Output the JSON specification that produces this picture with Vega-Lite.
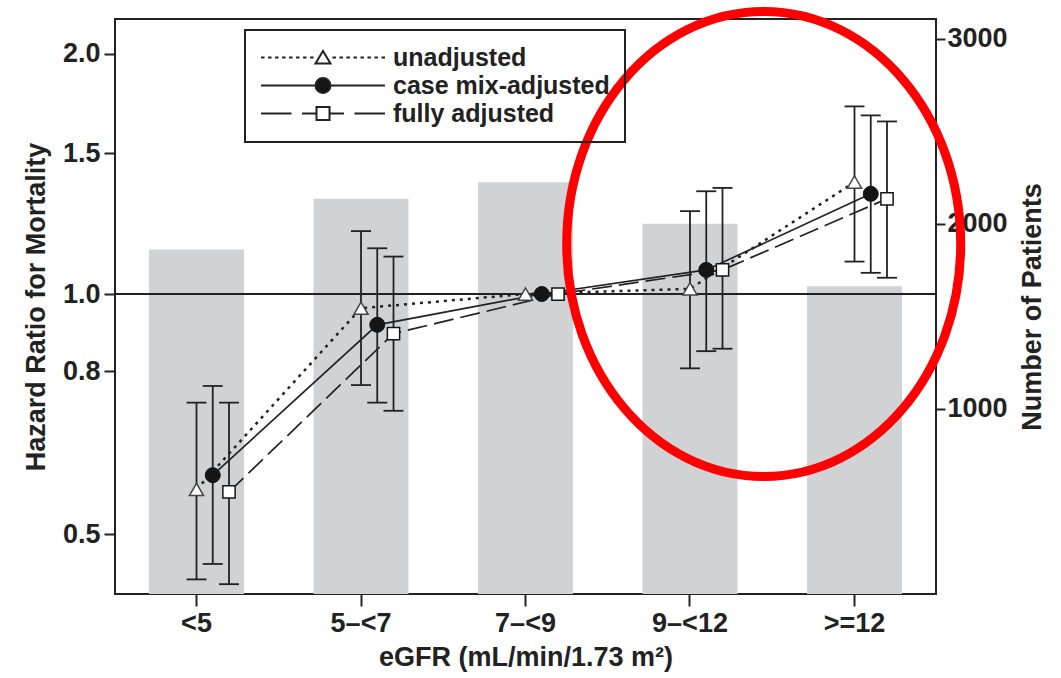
{
  "$schema": "https://vega.github.io/schema/vega-lite/v6.json",
  "width": 821,
  "height": 575,
  "autosize": {"type": "none"},
  "padding": {"left": 115, "top": 19, "right": 125, "bottom": 84},
  "background": "white",
  "config": {
    "font": "Liberation Sans",
    "view": {"stroke": "#222222", "strokeWidth": 2},
    "legend": {"strokeWidth": 2},
    "axis": {
      "labelFont": "Liberation Sans", "labelFontSize": 27, "labelFontWeight": "bold", "labelColor": "#222222",
      "titleFont": "Liberation Sans", "titleFontSize": 27, "titleFontWeight": "bold", "titleColor": "#222222",
      "tickColor": "#222222", "tickWidth": 2, "domain": false, "grid": false
    }
  },
  "datasets": {
    "bars": [
      {"egfr": "<5", "n": 1862},
      {"egfr": "5–<7", "n": 2136},
      {"egfr": "7–<9", "n": 2226},
      {"egfr": "9–<12", "n": 2001},
      {"egfr": ">=12", "n": 1664}
    ],
    "hr": [
      {"egfr": "<5", "model": "unadjusted", "hr": 0.569, "lo": 0.439, "hi": 0.731},
      {"egfr": "5–<7", "model": "unadjusted", "hr": 0.960, "lo": 0.769, "hi": 1.199},
      {"egfr": "7–<9", "model": "unadjusted", "hr": 1.0, "lo": null, "hi": null},
      {"egfr": "9–<12", "model": "unadjusted", "hr": 1.015, "lo": 0.807, "hi": 1.270},
      {"egfr": ">=12", "model": "unadjusted", "hr": 1.381, "lo": 1.098, "hi": 1.718},
      {"egfr": "<5", "model": "case mix-adjusted", "hr": 0.593, "lo": 0.459, "hi": 0.767},
      {"egfr": "5–<7", "model": "case mix-adjusted", "hr": 0.915, "lo": 0.731, "hi": 1.141},
      {"egfr": "7–<9", "model": "case mix-adjusted", "hr": 1.0, "lo": null, "hi": null},
      {"egfr": "9–<12", "model": "case mix-adjusted", "hr": 1.072, "lo": 0.848, "hi": 1.345},
      {"egfr": ">=12", "model": "case mix-adjusted", "hr": 1.335, "lo": 1.063, "hi": 1.674},
      {"egfr": "<5", "model": "fully adjusted", "hr": 0.565, "lo": 0.433, "hi": 0.731},
      {"egfr": "5–<7", "model": "fully adjusted", "hr": 0.892, "lo": 0.714, "hi": 1.114},
      {"egfr": "7–<9", "model": "fully adjusted", "hr": 1.0, "lo": null, "hi": null},
      {"egfr": "9–<12", "model": "fully adjusted", "hr": 1.072, "lo": 0.854, "hi": 1.358},
      {"egfr": ">=12", "model": "fully adjusted", "hr": 1.316, "lo": 1.048, "hi": 1.645}
    ]
  },
  "layer": [
    {
      "data": {"name": "bars"},
      "mark": {"type": "bar", "color": "#d1d2d4"},
      "encoding": {
        "x": {"field": "egfr", "type": "nominal",
          "scale": {"type": "band", "domain": ["<5", "5–<7", "7–<9", "9–<12", ">=12"], "paddingInner": 0.4225, "paddingOuter": 0.2067},
          "axis": {"title": "eGFR (mL/min/1.73 m²)", "labelAngle": 0, "tickSize": 12, "labelPadding": 4, "titlePadding": 8}},
        "y": {"field": "n", "type": "quantitative",
          "scale": {"domain": [0, 3108], "nice": false, "zero": true},
          "axis": {"orient": "right", "values": [1000, 2000, 3000], "format": "d", "title": "Number of Patients", "tickSize": 9, "labelPadding": 2, "titlePadding": 12, "titleAngle": 270, "titleBaseline": "top"}}
      }
    },
    {
      "data": {"name": "hr"},
      "layer": [
        {
          "data": {"values": [{}]},
          "mark": {"type": "rule", "color": "#222222", "strokeWidth": 1.8},
          "encoding": {
            "y": {"datum": 1, "type": "quantitative", "scale": {"type": "log", "domain": [0.4209, 2.2106], "nice": false},
              "axis": {"orient": "left", "values": [0.5, 0.8, 1, 1.5, 2], "format": ".1f", "title": "Hazard Ratio for Mortality", "tickSize": 11, "labelPadding": 4, "titlePadding": 12}}
          }
        },
        {
          "transform": [{"filter": "datum.model === 'unadjusted'"}],
          "mark": {"type": "line", "color": "#222222", "strokeWidth": 2.5, "strokeDash": [3, 5]},
          "encoding": {
            "x": {"field": "egfr", "type": "nominal", "scale": {"type": "band", "domain": ["<5", "5–<7", "7–<9", "9–<12", ">=12"], "paddingInner": 0.4225, "paddingOuter": 0.2067},
              "axis": {"title": "eGFR (mL/min/1.73 m²)", "labelAngle": 0, "tickSize": 12, "labelPadding": 4, "titlePadding": 8}},
            "xOffset": {"field": "model", "type": "nominal", "scale": {"type": "point", "domain": ["unadjusted", "case mix-adjusted", "fully adjusted"], "range": [47.5, 80], "padding": 0}},
            "y": {"field": "hr", "type": "quantitative", "scale": {"type": "log", "domain": [0.4209, 2.2106], "nice": false},
              "axis": {"orient": "left", "values": [0.5, 0.8, 1, 1.5, 2], "format": ".1f", "title": "Hazard Ratio for Mortality", "tickSize": 11, "labelPadding": 4, "titlePadding": 12}},
            "order": {"value": null}
          }
        },
        {
          "transform": [{"filter": "datum.model === 'case mix-adjusted'"}],
          "mark": {"type": "line", "color": "#222222", "strokeWidth": 1.7},
          "encoding": {
            "x": {"field": "egfr", "type": "nominal", "scale": {"type": "band", "domain": ["<5", "5–<7", "7–<9", "9–<12", ">=12"], "paddingInner": 0.4225, "paddingOuter": 0.2067},
              "axis": {"title": "eGFR (mL/min/1.73 m²)", "labelAngle": 0, "tickSize": 12, "labelPadding": 4, "titlePadding": 8}},
            "xOffset": {"field": "model", "type": "nominal", "scale": {"type": "point", "domain": ["unadjusted", "case mix-adjusted", "fully adjusted"], "range": [47.5, 80], "padding": 0}},
            "y": {"field": "hr", "type": "quantitative", "scale": {"type": "log", "domain": [0.4209, 2.2106], "nice": false},
              "axis": {"orient": "left", "values": [0.5, 0.8, 1, 1.5, 2], "format": ".1f", "title": "Hazard Ratio for Mortality", "tickSize": 11, "labelPadding": 4, "titlePadding": 12}},
            "order": {"value": null}
          }
        },
        {
          "transform": [{"filter": "datum.model === 'fully adjusted'"}],
          "mark": {"type": "line", "color": "#222222", "strokeWidth": 1.7, "strokeDash": [20, 7]},
          "encoding": {
            "x": {"field": "egfr", "type": "nominal", "scale": {"type": "band", "domain": ["<5", "5–<7", "7–<9", "9–<12", ">=12"], "paddingInner": 0.4225, "paddingOuter": 0.2067},
              "axis": {"title": "eGFR (mL/min/1.73 m²)", "labelAngle": 0, "tickSize": 12, "labelPadding": 4, "titlePadding": 8}},
            "xOffset": {"field": "model", "type": "nominal", "scale": {"type": "point", "domain": ["unadjusted", "case mix-adjusted", "fully adjusted"], "range": [47.5, 80], "padding": 0}},
            "y": {"field": "hr", "type": "quantitative", "scale": {"type": "log", "domain": [0.4209, 2.2106], "nice": false},
              "axis": {"orient": "left", "values": [0.5, 0.8, 1, 1.5, 2], "format": ".1f", "title": "Hazard Ratio for Mortality", "tickSize": 11, "labelPadding": 4, "titlePadding": 12}},
            "order": {"value": null}
          }
        },
        {
          "mark": {"type": "rule", "color": "#222222", "strokeWidth": 1.8},
          "encoding": {
            "x": {"field": "egfr", "type": "nominal", "scale": {"type": "band", "domain": ["<5", "5–<7", "7–<9", "9–<12", ">=12"], "paddingInner": 0.4225, "paddingOuter": 0.2067},
              "axis": {"title": "eGFR (mL/min/1.73 m²)", "labelAngle": 0, "tickSize": 12, "labelPadding": 4, "titlePadding": 8}},
            "xOffset": {"field": "model", "type": "nominal", "scale": {"type": "point", "domain": ["unadjusted", "case mix-adjusted", "fully adjusted"], "range": [47.5, 80], "padding": 0}},
            "y": {"field": "lo", "type": "quantitative", "scale": {"type": "log", "domain": [0.4209, 2.2106], "nice": false},
              "axis": {"orient": "left", "values": [0.5, 0.8, 1, 1.5, 2], "format": ".1f", "title": "Hazard Ratio for Mortality", "tickSize": 11, "labelPadding": 4, "titlePadding": 12}},
            "y2": {"field": "hi"}
          }
        },
        {
          "mark": {"type": "point", "shape": "stroke", "size": 400, "filled": false, "stroke": "#222222", "strokeWidth": 1.8, "opacity": 1},
          "encoding": {
            "x": {"field": "egfr", "type": "nominal", "scale": {"type": "band", "domain": ["<5", "5–<7", "7–<9", "9–<12", ">=12"], "paddingInner": 0.4225, "paddingOuter": 0.2067},
              "axis": {"title": "eGFR (mL/min/1.73 m²)", "labelAngle": 0, "tickSize": 12, "labelPadding": 4, "titlePadding": 8}},
            "xOffset": {"field": "model", "type": "nominal", "scale": {"type": "point", "domain": ["unadjusted", "case mix-adjusted", "fully adjusted"], "range": [47.5, 80], "padding": 0}},
            "y": {"field": "lo", "type": "quantitative", "scale": {"type": "log", "domain": [0.4209, 2.2106], "nice": false},
              "axis": {"orient": "left", "values": [0.5, 0.8, 1, 1.5, 2], "format": ".1f", "title": "Hazard Ratio for Mortality", "tickSize": 11, "labelPadding": 4, "titlePadding": 12}}
          }
        },
        {
          "mark": {"type": "point", "shape": "stroke", "size": 400, "filled": false, "stroke": "#222222", "strokeWidth": 1.8, "opacity": 1},
          "encoding": {
            "x": {"field": "egfr", "type": "nominal", "scale": {"type": "band", "domain": ["<5", "5–<7", "7–<9", "9–<12", ">=12"], "paddingInner": 0.4225, "paddingOuter": 0.2067},
              "axis": {"title": "eGFR (mL/min/1.73 m²)", "labelAngle": 0, "tickSize": 12, "labelPadding": 4, "titlePadding": 8}},
            "xOffset": {"field": "model", "type": "nominal", "scale": {"type": "point", "domain": ["unadjusted", "case mix-adjusted", "fully adjusted"], "range": [47.5, 80], "padding": 0}},
            "y": {"field": "hi", "type": "quantitative", "scale": {"type": "log", "domain": [0.4209, 2.2106], "nice": false},
              "axis": {"orient": "left", "values": [0.5, 0.8, 1, 1.5, 2], "format": ".1f", "title": "Hazard Ratio for Mortality", "tickSize": 11, "labelPadding": 4, "titlePadding": 12}}
          }
        },
        {
          "transform": [{"filter": "datum.model === 'unadjusted'"}],
          "mark": {"type": "point", "shape": "triangle-up", "size": 200, "filled": true, "fill": "#ffffff", "stroke": "#444444", "strokeWidth": 1.5, "opacity": 1},
          "encoding": {
            "x": {"field": "egfr", "type": "nominal", "scale": {"type": "band", "domain": ["<5", "5–<7", "7–<9", "9–<12", ">=12"], "paddingInner": 0.4225, "paddingOuter": 0.2067},
              "axis": {"title": "eGFR (mL/min/1.73 m²)", "labelAngle": 0, "tickSize": 12, "labelPadding": 4, "titlePadding": 8}},
            "xOffset": {"field": "model", "type": "nominal", "scale": {"type": "point", "domain": ["unadjusted", "case mix-adjusted", "fully adjusted"], "range": [47.5, 80], "padding": 0}},
            "y": {"field": "hr", "type": "quantitative", "scale": {"type": "log", "domain": [0.4209, 2.2106], "nice": false},
              "axis": {"orient": "left", "values": [0.5, 0.8, 1, 1.5, 2], "format": ".1f", "title": "Hazard Ratio for Mortality", "tickSize": 11, "labelPadding": 4, "titlePadding": 12}}
          }
        },
        {
          "transform": [{"filter": "datum.model === 'case mix-adjusted'"}],
          "mark": {"type": "point", "shape": "circle", "size": 225, "filled": true, "fill": "#151515", "stroke": "#151515", "strokeWidth": 1, "opacity": 1},
          "encoding": {
            "x": {"field": "egfr", "type": "nominal", "scale": {"type": "band", "domain": ["<5", "5–<7", "7–<9", "9–<12", ">=12"], "paddingInner": 0.4225, "paddingOuter": 0.2067},
              "axis": {"title": "eGFR (mL/min/1.73 m²)", "labelAngle": 0, "tickSize": 12, "labelPadding": 4, "titlePadding": 8}},
            "xOffset": {"field": "model", "type": "nominal", "scale": {"type": "point", "domain": ["unadjusted", "case mix-adjusted", "fully adjusted"], "range": [47.5, 80], "padding": 0}},
            "y": {"field": "hr", "type": "quantitative", "scale": {"type": "log", "domain": [0.4209, 2.2106], "nice": false},
              "axis": {"orient": "left", "values": [0.5, 0.8, 1, 1.5, 2], "format": ".1f", "title": "Hazard Ratio for Mortality", "tickSize": 11, "labelPadding": 4, "titlePadding": 12}}
          }
        },
        {
          "transform": [{"filter": "datum.model === 'fully adjusted'"}],
          "mark": {"type": "point", "shape": "square", "size": 150, "filled": true, "fill": "#ffffff", "stroke": "#151515", "strokeWidth": 1.5, "opacity": 1},
          "encoding": {
            "x": {"field": "egfr", "type": "nominal", "scale": {"type": "band", "domain": ["<5", "5–<7", "7–<9", "9–<12", ">=12"], "paddingInner": 0.4225, "paddingOuter": 0.2067},
              "axis": {"title": "eGFR (mL/min/1.73 m²)", "labelAngle": 0, "tickSize": 12, "labelPadding": 4, "titlePadding": 8}},
            "xOffset": {"field": "model", "type": "nominal", "scale": {"type": "point", "domain": ["unadjusted", "case mix-adjusted", "fully adjusted"], "range": [47.5, 80], "padding": 0}},
            "y": {"field": "hr", "type": "quantitative", "scale": {"type": "log", "domain": [0.4209, 2.2106], "nice": false},
              "axis": {"orient": "left", "values": [0.5, 0.8, 1, 1.5, 2], "format": ".1f", "title": "Hazard Ratio for Mortality", "tickSize": 11, "labelPadding": 4, "titlePadding": 12}}
          }
        },
        {
          "mark": {"type": "point", "filled": true, "strokeWidth": 2, "opacity": 0},
          "encoding": {
            "x": {"field": "egfr", "type": "nominal", "scale": {"type": "band", "domain": ["<5", "5–<7", "7–<9", "9–<12", ">=12"], "paddingInner": 0.4225, "paddingOuter": 0.2067},
              "axis": {"title": "eGFR (mL/min/1.73 m²)", "labelAngle": 0, "tickSize": 12, "labelPadding": 4, "titlePadding": 8}},
            "y": {"field": "hr", "type": "quantitative", "scale": {"type": "log", "domain": [0.4209, 2.2106], "nice": false},
              "axis": {"orient": "left", "values": [0.5, 0.8, 1, 1.5, 2], "format": ".1f", "title": "Hazard Ratio for Mortality", "tickSize": 11, "labelPadding": 4, "titlePadding": 12}},
            "shape": {"field": "model", "type": "nominal",
              "scale": {"domain": ["unadjusted", "case mix-adjusted", "fully adjusted"],
                "range": [
                  "M -5.9 0 L -5.567 0 M -5.233 0 L -4.9 0 M -4.567 0 L -4.233 0 M -3.9 0 L -3.567 0 M -3.233 0 L -2.9 0 M -2.567 0 L -2.233 0 M -1.9 0 L -1.567 0 M -1.233 0 L -0.9 0 M 0.9 0 L 1.233 0 M 1.567 0 L 1.9 0 M 2.233 0 L 2.567 0 M 2.9 0 L 3.233 0 M 3.567 0 L 3.9 0 M 4.233 0 L 4.567 0 M 4.9 0 L 5.233 0 M 5.567 0 L 5.9 0 M 0 -0.62 L 0.714 0.56 L -0.714 0.56 Z",
                  "M -5.9 0 L -0.7 0 M 0.7 0 L 5.9 0 M -0.714 0 A 0.714 0.714 0 1 0 0.714 0 A 0.714 0.714 0 1 0 -0.714 0 Z",
                  "M -5.9 0 L -3.0 0 M -2.0 0 L -0.62 0 M 0.62 0 L 2.0 0 M 3.0 0 L 5.9 0 M -0.62 -0.62 L 0.62 -0.62 L 0.62 0.62 L -0.62 0.62 Z"
                ]},
              "legend": {
                "orient": "none", "legendX": 130, "legendY": 11, "title": null, "padding": 15,
                "strokeColor": "#222222", "symbolSize": 441, "symbolStrokeWidth": 2, "symbolOpacity": 1,
                "symbolOffset": 50.5, "labelOffset": 57.5, "rowPadding": 2,
                "labelFont": "Liberation Sans", "labelFontSize": 25, "labelFontWeight": "bold", "labelColor": "#222222", "labelLimit": 400
              }},
            "fill": {"field": "model", "type": "nominal",
              "scale": {"domain": ["unadjusted", "case mix-adjusted", "fully adjusted"], "range": ["#ffffff", "#151515", "#ffffff"]},
              "legend": {"title": null}},
            "stroke": {"field": "model", "type": "nominal",
              "scale": {"domain": ["unadjusted", "case mix-adjusted", "fully adjusted"], "range": ["#222222", "#222222", "#222222"]},
              "legend": {"title": null}}
          }
        },
        {
          "data": {"values": [{}]},
          "mark": {"type": "point", "shape": "M -1.233 0 A 1.97 2.325 0 1 1 2.707 0 A 1.97 2.325 0 1 1 -1.233 0 Z", "size": 40000, "filled": false, "stroke": "#ff0000", "strokeWidth": 9, "opacity": 1},
          "encoding": {
            "x": {"datum": "9–<12", "type": "nominal", "scale": {"type": "band", "domain": ["<5", "5–<7", "7–<9", "9–<12", ">=12"], "paddingInner": 0.4225, "paddingOuter": 0.2067},
              "axis": {"title": "eGFR (mL/min/1.73 m²)", "labelAngle": 0, "tickSize": 12, "labelPadding": 4, "titlePadding": 8}},
            "y": {"datum": 1.155, "type": "quantitative", "scale": {"type": "log", "domain": [0.4209, 2.2106], "nice": false},
              "axis": {"orient": "left", "values": [0.5, 0.8, 1, 1.5, 2], "format": ".1f", "title": "Hazard Ratio for Mortality", "tickSize": 11, "labelPadding": 4, "titlePadding": 12}}
          }
        }
      ]
    }
  ],
  "resolve": {"scale": {"y": "independent", "xOffset": "independent"}}
}
